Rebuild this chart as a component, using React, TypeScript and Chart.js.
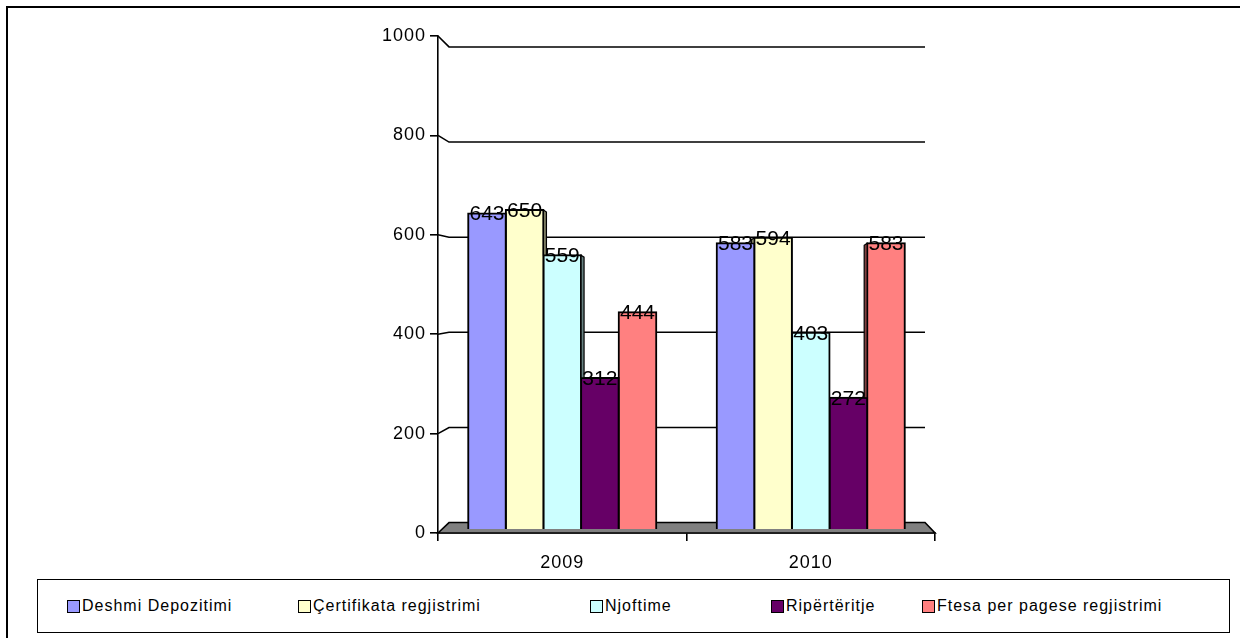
import React, { useEffect, useRef } from "react";
import { Chart, registerables } from "chart.js";

Chart.register(...registerables);

const categories = ["2009", "2010"];
const seriesNames = [
  "Deshmi Depozitimi",
  "Çertifikata regjistrimi",
  "Njoftime",
  "Ripërtëritje",
  "Ftesa per pagese regjistrimi",
];
const deshmiDepozitimi = [643, 583];
const certifikataRegjistrimi = [650, 594];
const njoftime = [559, 403];
const ripertaritje = [312, 272];
const ftesaPerPagese = [444, 583];
const seriesValues = [deshmiDepozitimi, certifikataRegjistrimi, njoftime, ripertaritje, ftesaPerPagese];
const yTicks = [0, 200, 400, 600, 800, 1000];
const colors = ["#9999FF", "#FFFFCC", "#CCFFFF", "#660066", "#FF8080"];
const sideColors = ["#4D4D80", "#808066", "#668080", "#330033", "#804040"];
const legendLefts = [67, 298, 590, 771, 922];

const FONT = "'Liberation Sans', Arial, sans-serif";

const spacingPlugin = {
  id: "spacing",
  beforeLayout(chart: any) {
    (chart.ctx as any).letterSpacing = "1px";
  },
  beforeDraw(chart: any) {
    (chart.ctx as any).letterSpacing = "1px";
  },
};

const wallPlugin = {
  id: "wall",
  beforeDatasetsDraw(chart: any) {
    const { ctx, chartArea: a, scales } = chart;
    const y = scales.y;
    const back = (v: number) => y.getPixelForValue(21 + 0.957 * v);
    const xl = a.left + 11;
    const xr = a.right - 10;
    ctx.save();
    ctx.strokeStyle = "#000";
    ctx.lineWidth = 1.6;
    ctx.lineJoin = "miter";
    ctx.beginPath();
    ctx.moveTo(a.left, y.getPixelForValue(0));
    ctx.lineTo(xl, back(0));
    ctx.lineTo(xr, back(0));
    ctx.lineTo(a.right, y.getPixelForValue(0));
    ctx.closePath();
    ctx.fillStyle = "#808080";
    ctx.fill();
    ctx.stroke();
    for (const v of yTicks) {
      if (v === 0) continue;
      ctx.beginPath();
      ctx.moveTo(a.left, y.getPixelForValue(v));
      ctx.lineTo(xl, back(v));
      ctx.lineTo(xr, back(v));
      ctx.stroke();
    }
    ctx.restore();
  },
};

// small 3D side faces where a neighbouring bar is shorter
const sidePlugin = {
  id: "sides",
  afterDatasetsDraw(chart: any) {
    const { ctx, chartArea: a } = chart;
    const midX = (a.left + a.right) / 2;
    const n = chart.data.datasets.length;
    ctx.save();
    ctx.strokeStyle = "#000";
    ctx.lineWidth = 1.2;
    for (let i = 0; i < n; i++) {
      const meta = chart.getDatasetMeta(i);
      meta.data.forEach((el: any, j: number) => {
        const leftGroup = el.x < midX;
        const ni = leftGroup ? i + 1 : i - 1;
        if (ni < 0 || ni >= n) return;
        const nb = chart.getDatasetMeta(ni).data[j];
        if (nb.y <= el.y + 3) return;
        const edge = leftGroup ? el.x + el.width / 2 : el.x - el.width / 2;
        const dx = leftGroup ? 3 : -3;
        ctx.beginPath();
        ctx.moveTo(edge, el.y);
        ctx.lineTo(edge + dx, el.y + 2);
        ctx.lineTo(edge + dx, nb.y);
        ctx.lineTo(edge, nb.y);
        ctx.closePath();
        ctx.fillStyle = sideColors[i];
        ctx.fill();
        ctx.stroke();
      });
    }
    ctx.restore();
  },
};

const labelPlugin = {
  id: "valueLabels",
  afterDatasetsDraw(chart: any) {
    const { ctx } = chart;
    ctx.save();
    (ctx as any).letterSpacing = "0px";
    ctx.font = `21px ${FONT}`;
    ctx.fillStyle = "#000";
    ctx.textAlign = "center";
    ctx.textBaseline = "middle";
    chart.data.datasets.forEach((ds: any, i: number) => {
      const meta = chart.getDatasetMeta(i);
      meta.data.forEach((el: any, j: number) => {
        ctx.fillText(String(ds.data[j]), el.x, el.y + 1);
      });
    });
    ctx.restore();
  },
};

export default function App() {
  const ref = useRef<HTMLCanvasElement>(null);

  useEffect(() => {
    if (!ref.current) return;
    const chart = new Chart(ref.current, {
      type: "bar",
      data: {
        labels: categories,
        datasets: seriesNames.map((name, i) => ({
          label: name,
          data: seriesValues[i],
          backgroundColor: colors[i],
          borderColor: "#000",
          borderWidth: 2,
          inflateAmount: 1,
          base: 8,
          categoryPercentage: 0.757,
          barPercentage: 1,
        })),
      },
      options: {
        animation: false,
        responsive: false,
        maintainAspectRatio: false,
        layout: { padding: { left: 300, right: 305, top: 36, bottom: 0 } },
        plugins: {
          legend: { display: false },
          tooltip: { enabled: false },
        },
        scales: {
          x: {
            grid: {
              offset: true,
              drawOnChartArea: false,
              drawTicks: true,
              tickLength: 8,
              color: "#000",
              lineWidth: 1.6,
            },
            border: { display: true, color: "#000", width: 1.6 },
            ticks: {
              color: "#000",
              font: { family: FONT, size: 18 },
              padding: 11,
              maxRotation: 0,
            },
            afterFit: (s: any) => {
              s.height = 42;
            },
          },
          y: {
            min: 0,
            max: 1000,
            ticks: {
              stepSize: 200,
              color: "#000",
              font: { family: FONT, size: 18 },
              padding: 4,
              callback: (v: any) => String(v),
            },
            grid: {
              drawOnChartArea: false,
              drawTicks: true,
              tickLength: 8,
              color: "#000",
              lineWidth: 1.6,
            },
            border: { display: true, color: "#000", width: 1.6 },
            afterFit: (s: any) => {
              s.width = 138;
            },
          },
        },
      },
      plugins: [spacingPlugin, wallPlugin, sidePlugin, labelPlugin],
    });
    return () => chart.destroy();
  }, []);

  return (
    <div
      style={{
        position: "fixed",
        left: 0,
        top: 0,
        width: 1240,
        height: 638,
        background: "#fff",
        overflow: "hidden",
        fontFamily: FONT,
      }}
    >
      <div
        style={{
          position: "absolute",
          left: 6,
          top: 6,
          width: 1300,
          height: 700,
          borderLeft: "2px solid #000",
          borderTop: "2px solid #000",
        }}
      />
      <canvas
        ref={ref}
        width={1240}
        height={575}
        style={{ position: "absolute", left: 0, top: 0, width: 1240, height: 575 }}
      />
      <div
        style={{
          position: "absolute",
          left: 37,
          top: 579,
          width: 1191,
          height: 52,
          border: "1px solid #000",
        }}
      >
        {seriesNames.map((name, i) => (
          <div
            key={name}
            style={{
              position: "absolute",
              left: legendLefts[i] - 38,
              top: 18,
              display: "flex",
              alignItems: "center",
              whiteSpace: "nowrap",
            }}
          >
            <span
              style={{
                display: "inline-block",
                width: 11,
                height: 11,
                background: colors[i],
                border: "1px solid #000",
                marginRight: 2,
              }}
            />
            <span style={{ fontSize: 16, letterSpacing: "1px", lineHeight: "16px", color: "#000" }}>{name}</span>
          </div>
        ))}
      </div>
    </div>
  );
}
